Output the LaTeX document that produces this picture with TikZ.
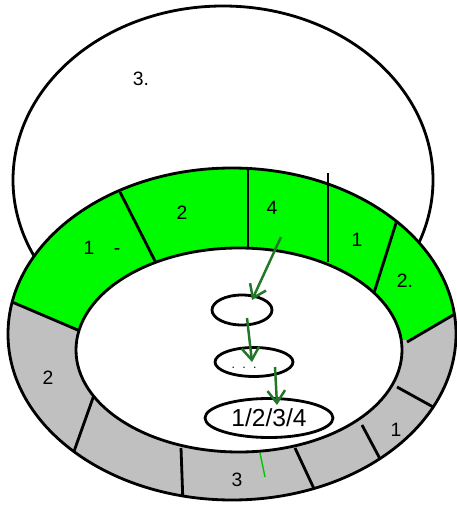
\documentclass[tikz,border=0pt]{standalone}
\usepackage{fontspec}
\setmainfont{Liberation Sans}
\usepackage{xcolor}
\usetikzlibrary{arrows.meta,shapes.geometric}
\definecolor{ringgreen}{RGB}{0,250,0}
\definecolor{ringgrey}{RGB}{192,192,192}
\definecolor{arrgreen}{RGB}{34,118,40}
\begin{document}
\begin{tikzpicture}[x=0.02cm,y=-0.02cm,line join=round,
  edge/.style={line width=1.6pt},
  lab/.style={font=\fontsize{11}{13}\selectfont,inner sep=0pt},
  blob/.style={ellipse,draw,line width=1.6pt,inner sep=0pt,fill=white},
  flow/.style={arrgreen,line width=1.4pt,-{Straight Barb[length=7pt,width=10pt]}}]
\useasboundingbox (0,0) rectangle (456,509);
% top shell
\draw[edge,fill=white] (223,180) ellipse [x radius=210,y radius=174];
% ring
\fill[ringgrey] (232,334) ellipse [x radius=224,y radius=166];
\begin{scope}
\clip (232,334) ellipse [x radius=224,y radius=166];
\fill[ringgreen] (-10,292)--(78,330)--(407,340)--(475,302)--(475,150)--(-10,150)--cycle;
% dividers
\draw[edge] (5,299)--(80,331);
\draw[edge] (120,192)--(157,265);
\draw[edge] (248,166)--(248,260);
\draw[edge] (397,220)--(373,296);
\draw[edge] (407,342)--(460,311);
\draw[edge] (435,408)--(397,387);
\draw[edge] (387,472)--(362,425);
\draw[edge] (316,493)--(295,448);
\draw[edge] (183,504)--(181,448);
\draw[edge] (72,457)--(94,395);
\end{scope}
\draw[edge] (328,173)--(328,262);
\draw[edge,fill=white] (239,350) ellipse [x radius=163,y radius=102];
\draw[edge] (232,334) ellipse [x radius=224,y radius=166];
% labels
\node[lab] (t3) at (141,79) {3.};
\node[lab] (g1) at (102,248) {1\hspace{1em}-};
\node[lab] (g2) at (182,213) {2};
\node[lab] (g4) at (272,208) {4};
\node[lab] (g1b) at (357,240) {1};
\node[lab] (g2b) at (405,281) {2.};
\node[lab] (s2) at (48,378) {2};
\node[lab] (s3) at (237,480) {3};
\node[lab] (s1) at (396,430) {1};
% inner ellipses
\node[blob,minimum width=1.2cm,minimum height=0.6cm] (e1) at (242,310) {};
\node[blob,minimum width=1.56cm,minimum height=0.58cm] (e2) at (254,362) {};
\node[font=\fontsize{7}{8}\selectfont,inner sep=0pt] (dots) at (244,368) {.\hspace{0.6em}.\hspace{0.6em}.};
\node[blob,minimum width=2.56cm,minimum height=0.78cm,font=\fontsize{14}{16}\selectfont] (e3) at (269,418) {1/2/3/4};
% flow
\coordinate (a0) at (281,237);
\coordinate (a1) at (252,300);
\coordinate (b0) at (247,318);
\coordinate (b1) at (252,362);
\coordinate (c0) at (275,367);
\coordinate (c1) at (277,405);
\draw[flow] (a0)--(a1);
\draw[flow] (b0)--(b1);
\draw[flow] (c0)--(c1);
\coordinate (m0) at (260,453);
\coordinate (m1) at (265,477);
\draw[ringgreen!80!black,line width=0.8pt] (m0)--(m1);
\end{tikzpicture}
\end{document}
